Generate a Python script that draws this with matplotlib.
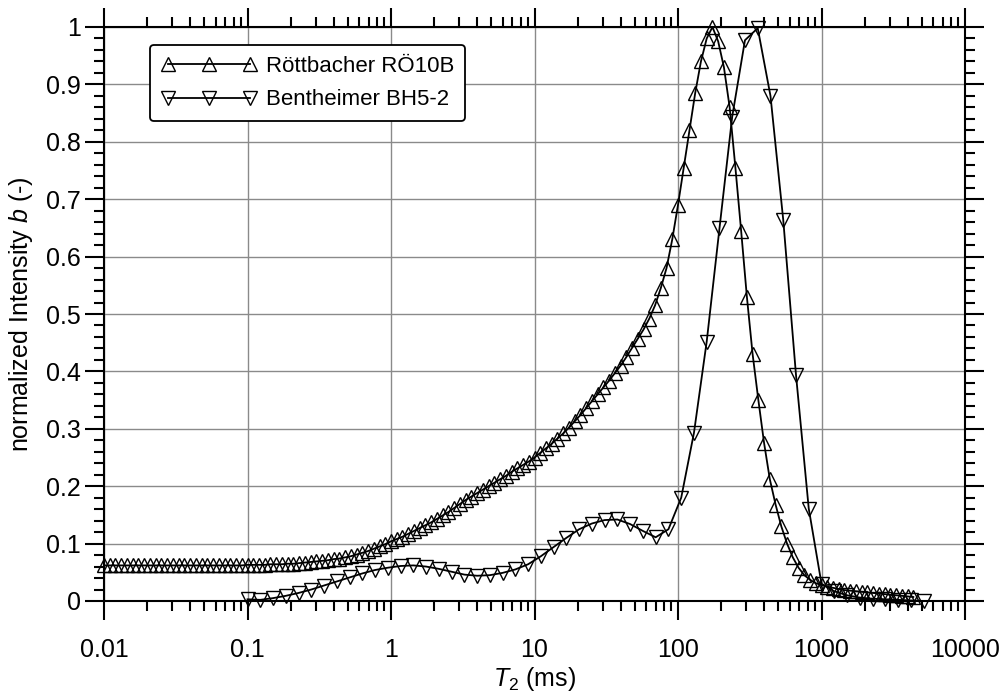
import matplotlib
matplotlib.use('Agg')
import matplotlib.pyplot as plt
from matplotlib.ticker import FixedLocator, MultipleLocator, LogLocator, NullFormatter

plt.rcParams['font.family'] = ['Liberation Sans', 'DejaVu Sans']
plt.rcParams['mathtext.fontset'] = 'custom'
plt.rcParams['mathtext.rm'] = 'Liberation Sans'
plt.rcParams['mathtext.it'] = 'Liberation Sans:italic'

# Röttbacher RÖ10B, T2 in ms
t_roett = [
    0.01, 0.01096, 0.01202, 0.01318, 0.01445, 0.01585, 0.01738, 0.01905, 0.02089, 0.02291, 0.02512, 0.02754, 0.0302,
    0.03311, 0.03631, 0.03981, 0.04365, 0.04786, 0.05248, 0.05754, 0.0631, 0.06918, 0.07586, 0.08318, 0.0912,
    0.1, 0.1096, 0.1202, 0.1318, 0.1445, 0.1585, 0.1738, 0.1905, 0.2089, 0.2291, 0.2512, 0.2754, 0.302,
    0.3311, 0.3631, 0.3981, 0.4365, 0.4786, 0.5248, 0.5754, 0.631, 0.6918, 0.7586, 0.8318, 0.912,
    1.0, 1.096, 1.202, 1.318, 1.445, 1.585, 1.738, 1.905, 2.089, 2.291, 2.512, 2.754, 3.02,
    3.311, 3.631, 3.981, 4.365, 4.786, 5.248, 5.754, 6.31, 6.918, 7.586, 8.318, 9.12,
    10.0, 10.96, 12.02, 13.18, 14.45, 15.85, 17.38, 19.05, 20.89, 22.91, 25.12, 27.54, 30.2,
    33.11, 36.31, 39.81, 43.65, 47.86, 52.48, 57.54, 63.1, 69.18, 75.86, 83.18, 91.2,
    100.0, 109.6, 120.2, 131.8, 144.5, 158.5, 173.8, 190.5, 208.9, 229.1, 251.2, 275.4, 302.0,
    331.1, 363.1, 398.1, 436.5, 478.6, 524.8, 575.4, 631.0, 691.8, 758.6, 831.8, 912.0,
    1000.0, 1096.0, 1202.0, 1318.0, 1445.0, 1585.0, 1738.0, 1905.0, 2089.0, 2291.0, 2512.0, 2754.0, 3020.0,
    3311.0, 3631.0, 3981.0, 4365.0,
]
b_roett = [
    0.062, 0.062, 0.062, 0.062, 0.062, 0.062, 0.062, 0.062, 0.062, 0.062, 0.062, 0.062, 0.062,
    0.062, 0.062, 0.062, 0.062, 0.062, 0.062, 0.062, 0.062, 0.062, 0.062, 0.062, 0.062,
    0.063, 0.063, 0.063, 0.063, 0.064, 0.064, 0.064, 0.065, 0.065, 0.066, 0.067, 0.068, 0.069,
    0.070, 0.071, 0.073, 0.074, 0.076, 0.078, 0.081, 0.084, 0.087, 0.091, 0.095, 0.099,
    0.104, 0.108, 0.112, 0.117, 0.122, 0.127, 0.132, 0.137, 0.143, 0.149, 0.155, 0.162, 0.169,
    0.176, 0.182, 0.188, 0.194, 0.200, 0.206, 0.212, 0.218, 0.225, 0.231, 0.237, 0.243,
    0.250, 0.258, 0.266, 0.274, 0.283, 0.292, 0.302, 0.313, 0.324, 0.336, 0.348, 0.360, 0.372,
    0.384, 0.397, 0.410, 0.425, 0.441, 0.457, 0.473, 0.492, 0.515, 0.545, 0.580, 0.630,
    0.690, 0.755, 0.820, 0.885, 0.940, 0.980, 1.000, 0.975, 0.930, 0.860, 0.755, 0.645, 0.530,
    0.430, 0.350, 0.275, 0.212, 0.168, 0.130, 0.100, 0.076, 0.058, 0.045, 0.037, 0.031,
    0.028, 0.025, 0.023, 0.021, 0.019, 0.018, 0.017, 0.016, 0.015, 0.014, 0.013, 0.012, 0.011,
    0.010, 0.009, 0.008, 0.007,
]

# Bentheimer BH5-2
t_benth = [
    0.1, 0.1227, 0.1506, 0.1848, 0.2268, 0.2783, 0.3415, 0.419, 0.5142, 0.631, 0.7743, 0.9501,
    1.166, 1.431, 1.756, 2.154, 2.644, 3.244, 3.981, 4.885, 5.995, 7.356, 9.027,
    11.08, 13.59, 16.68, 20.47, 25.12, 30.82, 37.82, 46.42, 56.96, 69.89, 85.77,
    105.3, 129.2, 158.5, 194.5, 238.7, 292.9, 359.4, 441.0, 541.2, 664.1, 814.9, 1000.0,
    1227.0, 1506.0, 1848.0, 2268.0, 2783.0, 3415.0, 4190.0, 5142.0,
]
b_benth = [
    0.003, 0.002, 0.005, 0.009, 0.014, 0.020, 0.027, 0.034, 0.041, 0.048, 0.054, 0.058,
    0.061, 0.062, 0.060, 0.056, 0.051, 0.046, 0.044, 0.045, 0.049, 0.055, 0.064,
    0.078, 0.094, 0.110, 0.125, 0.135, 0.141, 0.142, 0.134, 0.122, 0.111, 0.125,
    0.180, 0.293, 0.452, 0.649, 0.844, 0.977, 0.998, 0.880, 0.664, 0.394, 0.161, 0.030,
    0.017, 0.010, 0.006, 0.004, 0.003, 0.002, 0.001, 0.000,
]

x_ticks = [0.01, 0.1, 1, 10, 100, 1000, 10000]
x_labels = ['0.01', '0.1', '1', '10', '100', '1000', '10000']
y_ticks = [0, 0.1, 0.2, 0.3, 0.4, 0.5, 0.6, 0.7, 0.8, 0.9, 1.0]
y_labels = ['0', '0.1', '0.2', '0.3', '0.4', '0.5', '0.6', '0.7', '0.8', '0.9', '1']

fig = plt.figure(figsize=(10.06, 6.98), dpi=100)
ax = fig.add_axes([104 / 1006, 97 / 698, 861 / 1006, 574 / 698])

mk = dict(color='black', lw=1.3, markersize=10, markerfacecolor='none',
          markeredgecolor='black', markeredgewidth=1.0, clip_on=False, zorder=3)
ax.plot(t_roett, b_roett, marker='^', label='Röttbacher RÖ10B', **mk)
ax.plot(t_benth, b_benth, marker='v', label='Bentheimer BH5-2', **mk)

ax.set_xscale('log')
ax.set_xlim(0.01, 10000)
ax.set_ylim(0, 1)
ax.xaxis.set_major_locator(FixedLocator(x_ticks))
ax.set_xticklabels(x_labels)
ax.xaxis.set_minor_locator(LogLocator(base=10, subs=range(2, 10), numticks=20))
ax.xaxis.set_minor_formatter(NullFormatter())
ax.set_yticks(y_ticks)
ax.set_yticklabels(y_labels)
ax.yaxis.set_minor_locator(MultipleLocator(0.02))

ax.grid(True, which='major', color='#8a8a8a', lw=1.0, zorder=0)
ax.set_axisbelow(True)

for s in ax.spines.values():
    s.set_linewidth(1.5)
ax.tick_params(which='both', direction='out', top=True, right=True, width=1.5, labelsize=18)
ax.tick_params(which='major', length=13.5)
ax.tick_params(which='minor', length=7.5)
ax.tick_params(axis='x', which='major', pad=13)
ax.tick_params(axis='y', which='major', pad=3)

ax.set_xlabel(r'$T_2$ (ms)', fontsize=18, labelpad=2)
ax.set_ylabel(r'normalized Intensity $b$ (-)', fontsize=18, labelpad=8)

leg = ax.legend(loc='upper left', bbox_to_anchor=(150 / 1006, 1 - 45 / 698),
                bbox_transform=fig.transFigure, borderaxespad=0, fontsize=16,
                numpoints=3, handlelength=4.3, handletextpad=0.4, borderpad=0.5,
                labelspacing=0.55, fancybox=True, framealpha=1, edgecolor='black')
leg.get_frame().set_linewidth(1.3)

fig.savefig('out.png', dpi=100)
